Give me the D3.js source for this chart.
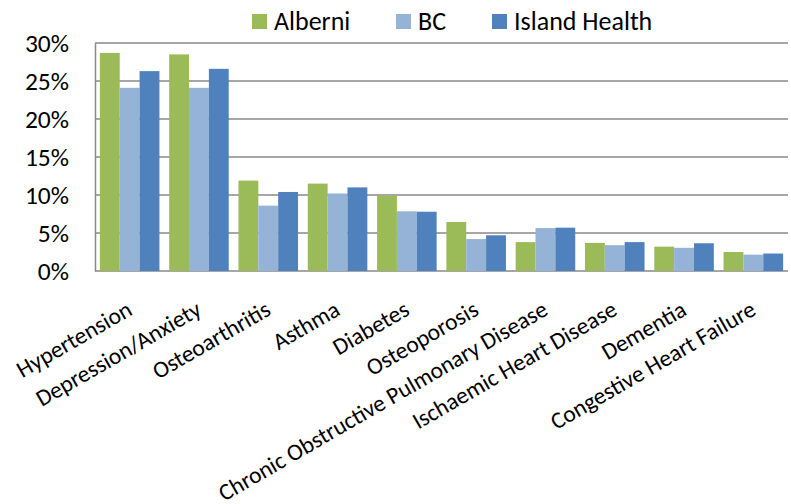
<!DOCTYPE html>
<html>
<head>
<meta charset="utf-8">
<script src="https://cdn.jsdelivr.net/npm/d3@7"></script>
<style>
  body { margin: 0; background: #fff; }
  text { font-family: Carlito, Calibri, "Open Sans", sans-serif; fill: #000; }
</style>
</head>
<body>
<div id="chart"></div>
<script>
var categories = ["Hypertension", "Depression/Anxiety", "Osteoarthritis", "Asthma", "Diabetes",
  "Osteoporosis", "Chronic Obstructive Pulmonary Disease", "Ischaemic Heart Disease", "Dementia",
  "Congestive Heart Failure"];
var seriesNames = ["Alberni", "BC", "Island Health"];
var alberni = [28.7, 28.5, 11.9, 11.5, 9.9, 6.45, 3.8, 3.7, 3.2, 2.5];
var bc = [24.1, 24.1, 8.6, 10.2, 7.85, 4.2, 5.65, 3.4, 3.05, 2.15];
var island = [26.3, 26.6, 10.4, 11.0, 7.8, 4.7, 5.7, 3.8, 3.65, 2.3];
var yTicks = [0, 5, 10, 15, 20, 25, 30];
var colors = ["#9bbb59", "#95b3d7", "#4f81bd"];

var width = 791, height = 504;
var plotLeft = 95, plotRight = 788, plotTop = 43, plotBottom = 271;

var svg = d3.select("#chart").append("svg").attr("width", width).attr("height", height);

var x = d3.scaleBand().domain(categories).range([plotLeft, plotRight]).paddingInner(0).paddingOuter(0);
var inner = d3.scaleBand().domain(seriesNames).range([0, x.bandwidth()]).paddingInner(0).paddingOuter(0.245);
var y = d3.scaleLinear().domain([0, 30]).range([plotBottom, plotTop]);

// gridlines
svg.append("g").selectAll("line").data(yTicks).enter().append("line")
  .attr("x1", plotLeft).attr("x2", plotRight)
  .attr("y1", function(d) { return y(d); }).attr("y2", function(d) { return y(d); })
  .attr("stroke", "#888").attr("stroke-width", 1.5);

// y axis
var yAxis = d3.axisLeft(y).tickValues(yTicks).tickSize(0).tickPadding(26)
  .tickFormat(function(d) { return d + "%"; });
var gy = svg.append("g").attr("transform", "translate(" + plotLeft + ",0)").call(yAxis);
gy.select(".domain").attr("stroke", "#888").attr("stroke-width", 1.5);
gy.selectAll("text").style("font-size", "25.5px").attr("fill", "#000")
  .style("font-family", "Carlito, Calibri, 'Open Sans', sans-serif");

// bars
var series = [alberni, bc, island];
series.forEach(function(vals, s) {
  svg.append("g").selectAll("rect").data(vals).enter().append("rect")
    .attr("x", function(d, i) { return x(categories[i]) + inner(seriesNames[s]); })
    .attr("y", function(d) { return y(d); })
    .attr("width", inner.bandwidth())
    .attr("height", function(d) { return y(0) - y(d); })
    .attr("fill", colors[s]);
});

// category labels, rotated like Excel's -30deg axis text
svg.append("g").selectAll("text").data(categories).enter().append("text")
  .attr("transform", function(d) {
    return "translate(" + (x(d) + x.bandwidth() / 2 + 4) + "," + 314 + ") rotate(-30)";
  })
  .attr("text-anchor", "end")
  .style("font-size", "23.5px")
  .text(function(d) { return d; });

// legend
var legendX = [252, 396, 492];
var lg = svg.append("g");
seriesNames.forEach(function(name, s) {
  lg.append("rect").attr("x", legendX[s]).attr("y", 14).attr("width", 15).attr("height", 15)
    .attr("fill", colors[s]);
  lg.append("text").attr("x", legendX[s] + 22).attr("y", 29.5).style("font-size", "26px").text(name);
});
</script>
</body>
</html>
